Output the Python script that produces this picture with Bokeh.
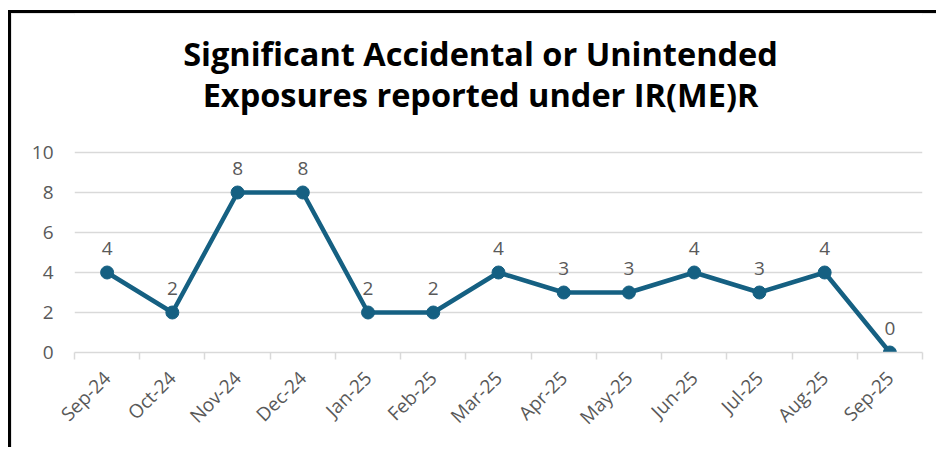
from math import pi
from bokeh.plotting import figure
from bokeh.models import (ColumnDataSource, Range1d, FactorRange, LinearAxis,
                          FixedTicker, Label)
from bokeh.embed import file_html
from bokeh.resources import INLINE
from bokeh.core.properties import value

months = ["Sep-24", "Oct-24", "Nov-24", "Dec-24", "Jan-25", "Feb-25", "Mar-25",
          "Apr-25", "May-25", "Jun-25", "Jul-25", "Aug-25", "Sep-25"]
counts = [4, 2, 8, 8, 2, 2, 4, 3, 3, 4, 3, 4, 0]
y_ticks = [0, 2, 4, 6, 8, 10]
title_lines = ["Significant Accidental or Unintended",
               "Exposures reported under IR(ME)R"]

LINE = "#156082"
TXT = "#595959"
GRID = "#d9d9d9"
FONT = "Open Sans"

src = ColumnDataSource(dict(m=months, c=counts, lab=[str(v) for v in counts]))

# the frame reaches up to the canvas top so that the title can sit inside it;
# the y range above 10 is left empty (20 px per unit, 339 px frame height)
p = figure(width=928, height=437, x_range=FactorRange(*months),
           y_range=Range1d(0, 16.95), output_backend="svg",
           toolbar_location=None, x_axis_location=None,
           min_border_left=63, min_border_right=17,
           min_border_top=0, min_border_bottom=98, title=None)
p.margin = (10, 0, 0, 8)
p.styles = {"border-left": "3px solid black", "border-top": "3px solid black",
            "box-shadow": "inset 2px 2px 2px #dcdcdc"}
p.outline_line_color = None
p.background_fill_color = "white"
p.border_fill_color = "white"

# axis in the factor range's synthetic coordinates: labels at category
# centres, tick marks on the category boundaries
centers = [i + 0.5 for i in range(len(months))]
bounds = list(range(len(months) + 1))
xax = LinearAxis(ticker=FixedTicker(ticks=centers, minor_ticks=bounds),
                 major_label_overrides={c: m for c, m in zip(centers, months)})
xax.major_tick_out = 0
xax.major_tick_in = 0
xax.minor_tick_out = 7
xax.minor_tick_in = 0
xax.minor_tick_line_color = GRID
xax.minor_tick_line_width = 1.5
xax.axis_line_color = GRID
xax.axis_line_width = 1.5
xax.major_label_orientation = pi / 4
xax.major_label_standoff = 15
xax.major_label_text_font = FONT
xax.major_label_text_font_size = "19px"
xax.major_label_text_color = TXT
p.add_layout(xax, "below")

yax = p.yaxis[0]
yax.ticker = FixedTicker(ticks=y_ticks)
yax.axis_line_color = None
yax.major_tick_line_color = None
yax.minor_tick_line_color = None
yax.major_label_standoff = 15
yax.major_label_text_font = FONT
yax.major_label_text_font_size = "19px"
yax.major_label_text_color = TXT

for g in p.xgrid:
    g.visible = False
p.ygrid.ticker = FixedTicker(ticks=y_ticks[1:])
p.ygrid.grid_line_color = GRID
p.ygrid.grid_line_width = 1.5

p.line("m", "c", source=src, line_color=LINE, line_width=4.5)
p.scatter("m", "c", source=src, size=13, fill_color=LINE, line_color=LINE)
p.text("m", "c", text="lab", source=src, text_align="center",
       text_baseline="alphabetic", y_offset=-24, text_color=TXT,
       text_font=value(FONT), text_font_size="19px")

for txt, yy in zip(title_lines, [299, 258]):
    p.add_layout(Label(x=406, y=yy, x_units="screen", y_units="screen",
                       text=txt, text_align="center", text_baseline="alphabetic",
                       text_font=FONT, text_font_style="bold",
                       text_font_size="32.5px", text_color="black"))

open("out.html", "w").write(file_html(p, INLINE))
